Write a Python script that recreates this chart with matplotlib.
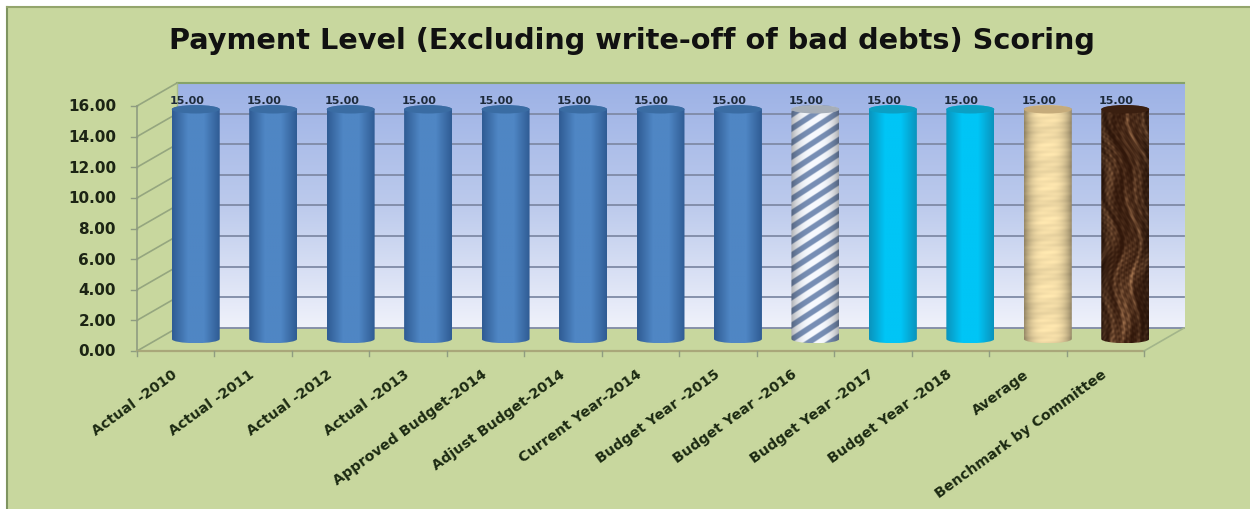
import numpy as np
import matplotlib
matplotlib.use('Agg')
import matplotlib.pyplot as plt
from matplotlib.patches import Polygon, PathPatch, Rectangle
from matplotlib.path import Path
from matplotlib.colors import LinearSegmentedColormap

plt.rcParams['font.family'] = ['DejaVu Sans']

title = 'Payment Level (Excluding write-off of bad debts) Scoring'
categories = ['Actual -2010', 'Actual -2011', 'Actual -2012', 'Actual -2013',
              'Approved Budget-2014', 'Adjust Budget-2014', 'Current Year-2014',
              'Budget Year -2015', 'Budget Year -2016', 'Budget Year -2017',
              'Budget Year -2018', 'Average', 'Benchmark by Committee']
scores = [15.00, 15.00, 15.00, 15.00, 15.00, 15.00, 15.00,
          15.00, 15.00, 15.00, 15.00, 15.00, 15.00]
y_ticks = [0, 2, 4, 6, 8, 10, 12, 14, 16]
styles = ['blue'] * 8 + ['stripe', 'cyan', 'cyan', 'tan', 'brown']

BG = '#c8d79e'
W, H = 1250, 510
# depth of the fake 3d box, in data units
DX = 40 / 77.5
DY = 23 / 15.31
BAR_W = 48 / 77.5
BAR_DX = 20 / 77.5
BAR_DY = 12 / 15.31
CAP = 4.2 / 15.31

fig = plt.figure(figsize=(12.5, 5.1), dpi=100, facecolor='white')
fig.add_artist(Rectangle((7 / W, 0), 1 - 7 / W, 1 - 8 / H, transform=fig.transFigure,
                         facecolor=BG, edgecolor='none', zorder=-2))
ax = fig.add_axes([137 / W, (H - 352) / H, (1144 - 137) / W, 245 / H])
ax.axis('off')

# back wall
wall = LinearSegmentedColormap.from_list('wall', ['#9db2e6', '#bccaec', '#f0f2fb'])
ax.imshow(np.linspace(0, 1, 256).reshape(-1, 1), cmap=wall, aspect='auto', origin='upper',
          extent=(DX, len(categories) + DX, DY, 16 + DY), zorder=1, clip_on=False)

# top and side edges, floor
ax.plot([DX, len(categories) + DX], [16 + DY, 16 + DY], color='#86a36a', lw=1.5, zorder=2, clip_on=False)
ax.plot([DX, DX], [DY, 16 + DY], color='#a9bb8c', lw=1, zorder=2, clip_on=False)
ax.add_patch(Polygon([(0, 0), (DX, DY), (len(categories) + DX, DY), (len(categories), 0)],
                     closed=True, facecolor=BG, edgecolor='none', zorder=2))
for v in y_ticks:
    if v < 16:
        ax.plot([DX, len(categories) + DX], [v + DY, v + DY], color='#7f8aa6', lw=1.3, zorder=2, clip_on=False)
    ax.plot([0, DX], [v, v + DY], color='#95a67f', lw=1.2, zorder=2, clip_on=False)
    ax.plot([-6 / 77.5, 0], [v, v], color='#8f9c80', lw=1, zorder=2, clip_on=False)
    ax.text(-21 / 77.5, v, '%.2f' % v, ha='right', va='center', fontsize=11,
            fontweight='bold', color='#1c2414', clip_on=False)
ax.plot([0, 0], [0, 16], color='#8f9c80', lw=1.2, zorder=2, clip_on=False)
ax.plot([0, len(categories)], [0, 0], color='#a9a77a', lw=1.6, zorder=2, clip_on=False)
ax.plot([len(categories), len(categories) + DX], [0, DY], color='#a3b58a', lw=1.2, zorder=2, clip_on=False)
for i in range(len(categories) + 1):
    ax.plot([i, i], [0, -5 / 15.31], color='#8f9c80', lw=1, zorder=2, clip_on=False)


def side_shade(edge, mid):
    cm = LinearSegmentedColormap.from_list('c', [edge, mid, mid, edge])
    return cm(np.linspace(0, 1, 64)).reshape(1, 64, 4)


def stripe_img():
    u, v = np.meshgrid(np.linspace(0, 48, 96), np.linspace(0, 229, 458))
    s = np.sin((u * 0.62 + v) * 2 * np.pi / 13.5)
    s = np.clip(s * 2.5 + 0.7, 0, 1)[..., None]
    a = np.array([0.97, 0.98, 1.0])
    b = np.array([0.47, 0.56, 0.71])
    img = a * s + b * (1 - s)
    shade = 1 - 0.3 * np.abs(np.linspace(-1, 1, 96)) ** 3
    return img * shade[None, :, None]


def tan_img():
    u, v = np.meshgrid(np.linspace(0, 1, 48), np.linspace(0, 60, 229))
    n = 0.015 * np.sin(v * 5.1) + 0.02 * np.sin(v * 2.3 + u * 7) + 0.025 * np.sin(v * 0.7)
    img = np.array([0.96, 0.87, 0.66]) * (1 + n)[..., None]
    shade = 1 - 0.38 * np.abs(np.linspace(-1, 1, 48)) ** 3
    return np.clip(img * shade[None, :, None], 0, 1)


def brown_img():
    u, v = np.meshgrid(np.linspace(0, 48, 96), np.linspace(0, 229, 458))
    n = np.zeros_like(u)
    # sines at odd angles with a warp, blotchy and mostly vertical
    wx = u + 9 * np.sin(v * 0.031 + 1.2) + 5 * np.sin(v * 0.083)
    wy = v + 14 * np.sin(u * 0.09 + 0.4)
    for fx, fy, ph, amp in [(0.13, 0.021, 0.3, 1.2), (0.29, 0.047, 1.9, 1.0), (-0.41, 0.073, 4.0, 1.0),
                            (0.67, -0.11, 2.2, 0.9), (-0.97, 0.19, 5.1, 0.8), (1.31, 0.53, 0.9, 0.7),
                            (-1.73, 0.83, 3.1, 0.6), (0.37, 1.13, 2.7, 0.6)]:
        n += amp * np.sin(wx * fx + wy * fy + ph)
    n = np.clip(n / 5.0 * 0.5 + 0.48, 0, 1)
    a = np.array([0.19, 0.09, 0.04])
    b = np.array([0.66, 0.47, 0.32])
    img = a + (b - a) * (n[..., None] ** 2.0)
    shade = 1 - 0.35 * np.abs(np.linspace(-1, 1, 96)) ** 3
    return np.clip(img * shade[None, :, None], 0, 1)


bodies = {'blue': side_shade('#2f5c94', '#4f86c4'), 'cyan': side_shade('#0a94bd', '#00c5f6'),
          'stripe': stripe_img(), 'tan': tan_img(), 'brown': brown_img()}
caps = {'blue': '#3a6ca3', 'cyan': '#0b9fc4', 'stripe': '#a6aeb8',
        'tan': '#c5ab7b', 'brown': '#3a1f10'}

# cylinders
k = 0.5523
for i, (v, st) in enumerate(zip(scores, styles)):
    c = i + 0.5 + BAR_DX
    l, r = c - BAR_W / 2, c + BAR_W / 2
    b0, t0 = BAR_DY, BAR_DY + v
    hw = BAR_W / 2
    verts = [(l, t0), (l, b0),
             (l, b0 - k * CAP), (c - k * hw, b0 - CAP), (c, b0 - CAP),
             (c + k * hw, b0 - CAP), (r, b0 - k * CAP), (r, b0),
             (r, t0),
             (r, t0 + k * CAP), (c + k * hw, t0 + CAP), (c, t0 + CAP),
             (c - k * hw, t0 + CAP), (l, t0 + k * CAP), (l, t0), (l, t0)]
    codes = [Path.MOVETO, Path.LINETO,
             Path.CURVE4, Path.CURVE4, Path.CURVE4,
             Path.CURVE4, Path.CURVE4, Path.CURVE4,
             Path.LINETO,
             Path.CURVE4, Path.CURVE4, Path.CURVE4,
             Path.CURVE4, Path.CURVE4, Path.CURVE4, Path.CLOSEPOLY]
    outline = PathPatch(Path(verts, codes), transform=ax.transData, facecolor='none', edgecolor='none')
    ax.add_patch(outline)
    im = ax.imshow(bodies[st], aspect='auto', extent=(l, r, b0 - CAP, t0 + CAP), zorder=3,
                   origin='upper', interpolation='bilinear')
    im.set_clip_path(outline)
    im.set_clip_box(fig.bbox)
    # top ellipse, darker
    cap_v = [(l, t0), (l, t0 + k * CAP), (c - k * hw, t0 + CAP), (c, t0 + CAP),
             (c + k * hw, t0 + CAP), (r, t0 + k * CAP), (r, t0),
             (r, t0 - k * CAP), (c + k * hw, t0 - CAP), (c, t0 - CAP),
             (c - k * hw, t0 - CAP), (l, t0 - k * CAP), (l, t0)]
    cap_c = [Path.MOVETO] + [Path.CURVE4] * 12
    ax.add_patch(PathPatch(Path(cap_v, cap_c), facecolor=caps[st], edgecolor='none', zorder=4, clip_on=False))
    ax.text(c - 9 / 77.5, v + BAR_DY + 0.6, '%.2f' % v, ha='center', va='center', fontsize=8,
            fontweight='bold', color='#1d2a3a', zorder=5, clip_on=False)

ax.set_xlim(0, len(categories))
ax.set_ylim(0, 16)

# category labels
for i, name in enumerate(categories):
    ax.annotate(name, xy=(i + 0.5, 0), xytext=(-3, -11), textcoords='offset points', rotation=36,
                rotation_mode='anchor', ha='right', va='top', fontsize=10.3, fontweight='bold',
                color='#1c2a12', annotation_clip=False)

fig.text(632 / W, 1 - 41 / H, title, ha='center', va='center', fontsize=20.7, fontweight='bold', color='#111111')

# frame round the picture
fig.add_artist(plt.Line2D([7 / W, 7 / W], [0, 1 - 8 / H], color='#7f9460', lw=1.5))
fig.add_artist(plt.Line2D([7 / W, 1], [1 - 8 / H, 1 - 8 / H], color='#94a56c', lw=1.5))

fig.savefig('out.png', dpi=100, facecolor='white')
